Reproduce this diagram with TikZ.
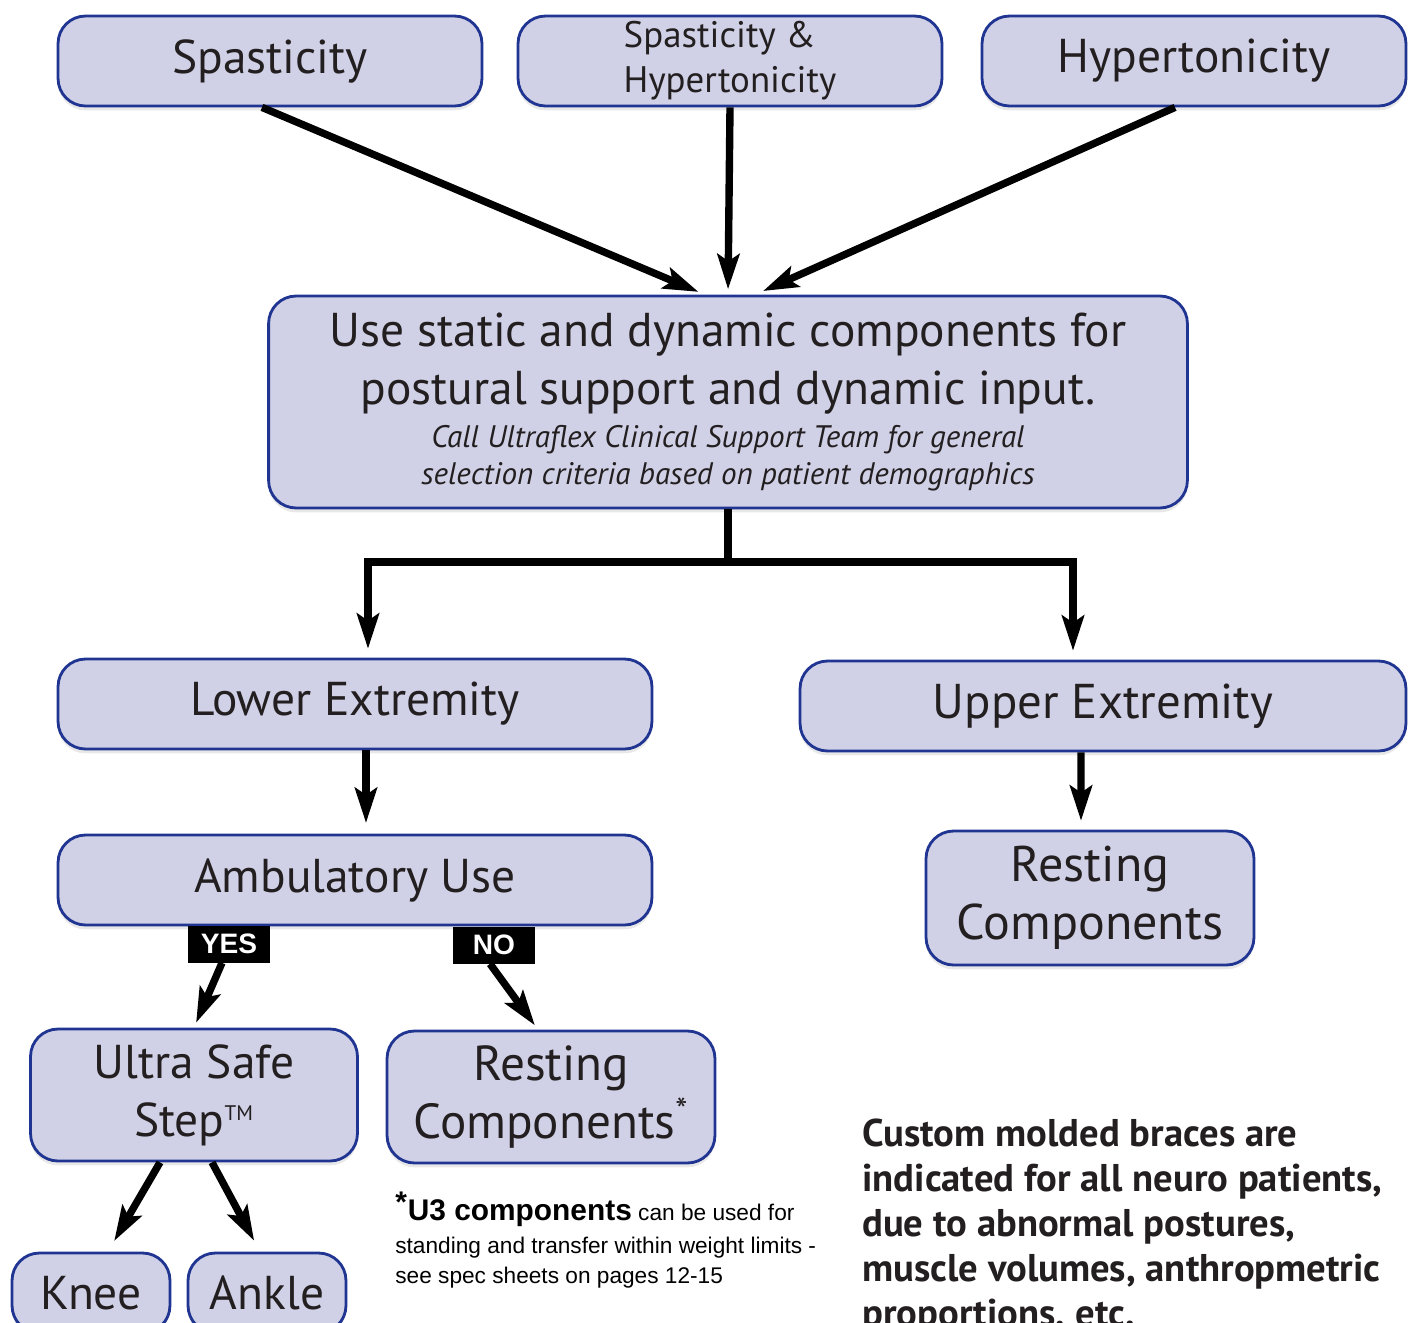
\documentclass[tikz,border=0pt]{standalone}
\usepackage{fontspec}
\setmainfont{PT Sans}
\newfontfamily\notefont{Liberation Sans}
\usepackage{xcolor}
\usetikzlibrary{positioning, arrows.meta, calc, shadows}
\definecolor{boxfill}{RGB}{208,209,230}
\definecolor{boxline}{RGB}{32,52,145}
\definecolor{inktext}{RGB}{35,31,32}

\begin{document}
\begin{tikzpicture}[x=0.02cm, y=-0.02cm,
    box/.style = {draw=boxline, fill=boxfill, line width=1.6pt, rounded corners=0.55cm,
                  align=center, inner sep=0pt, text=inktext,
                  drop shadow={shadow xshift=0pt, shadow yshift=-2.5pt, opacity=0.18},
                  font=\fontsize{27}{33}\selectfont},
    arr/.style = {line width=4.2pt, -{Stealth[length=20pt, width=12.5pt, inset=4pt]}},
    tag/.style = {fill=black, text=white, inner sep=0pt, minimum width=1.64cm,
                  minimum height=0.74cm, font=\notefont\bfseries\fontsize{16}{16}\selectfont}]
    \useasboundingbox (0,0) rectangle (1413,1322);
    \clip (0,0) rectangle (1413,1322);

    % top row
    \node[box, minimum width=8.48cm, minimum height=1.8cm] (spas) at (270,61) {Spasticity};
    \node[box, minimum width=8.48cm, minimum height=1.8cm, align=left, font=\fontsize{21}{25.5}\selectfont] (both) at (730,61) {Spasticity \&\\Hypertonicity};
    \node[box, minimum width=8.48cm, minimum height=1.8cm] (hyper) at (1194,61) {Hypertonicity};

    \node[box, minimum width=18.38cm, minimum height=4.24cm] (main) at (728,402)
        {Use static and dynamic components for\\postural support and dynamic input.\\[-8.5pt]
         {\itshape\fontsize{17.7}{22}\selectfont Call Ultraflex Clinical Support Team for general}\\[-12pt]
         {\itshape\fontsize{17.7}{22}\selectfont selection criteria based on patient demographics}};

    % lower / upper
    \node[box, minimum width=11.88cm, minimum height=1.8cm] (lower) at (355,704) {Lower Extremity};
    \node[box, minimum width=12.12cm, minimum height=1.8cm, font=\fontsize{27.8}{33}\selectfont] (upper) at (1103,706) {Upper Extremity};
    \node[box, minimum width=11.88cm, minimum height=1.8cm] (amb) at (355,880) {Ambulatory Use};
    \node[box, minimum width=6.56cm, minimum height=2.68cm, font=\fontsize{28.5}{33}\selectfont] (restR) at (1090,898) {Resting\\Components};

    \node[tag] (yes) at (229,944) {YES};
    \node[tag] (no) at (494,945) {NO};

    \node[box, minimum width=6.54cm, minimum height=2.64cm] (ultra) at (194,1095) {Ultra Safe\\Step\textsuperscript{\fontsize{12}{12}\selectfont TM}};
    \node[box, minimum width=6.56cm, minimum height=2.64cm, font=\fontsize{28}{33}\selectfont] (restM) at (551,1097) {Resting\\Components\textsuperscript{*}};

    \node[box, minimum width=3.16cm, minimum height=1.6cm] (knee) at (91,1293) {Knee};
    \node[box, minimum width=3.16cm, minimum height=1.6cm] (ankle) at (267,1293) {Ankle};

    % notes
    \node[anchor=north west, align=left, inner sep=0pt, text=black,
          font=\notefont\fontsize{12.9}{17.5}\selectfont] (note) at (395,1192)
        {\textsuperscript{\bfseries\fontsize{17}{17}\selectfont*}{\bfseries\fontsize{17}{17}\selectfont U3 components} can be used for\\[1pt]
         standing and transfer within weight limits -\\[0pt]
         see spec sheets on pages 12-15};
    \node[anchor=north west, align=left, inner sep=0pt, text=inktext,
          font=\bfseries\fontsize{22}{25.5}\selectfont] (custom) at (862,1119)
        {Custom molded braces are\\indicated for all neuro patients,\\due to abnormal postures,\\muscle volumes, anthropmetric\\proportions, etc.};

    % arrows
    \draw[arr, shorten >=4pt] ([xshift=-0.16cm]spas.south) -- ([xshift=-0.46cm]main.north);
    \draw[arr, shorten >=3pt] (both.south) -- (main.north);
    \draw[arr, shorten >=5pt] ([xshift=-0.38cm]hyper.south) -- ([xshift=0.54cm]main.north);

    \coordinate (split) at (728,562);
    \draw[line width=4.2pt] (main.south) -- (split);
    \draw[arr, shorten >=5pt] (split) -| ([xshift=0.26cm]lower.north);
    \draw[arr, shorten >=5pt] (split) -| ([xshift=-0.6cm]upper.north);

    \draw[arr, shorten >=6pt] ([xshift=0.22cm]lower.south) -- ([xshift=0.22cm]amb.north);
    \draw[arr, shorten >=5pt] ([xshift=-0.44cm]upper.south) -- ([xshift=-0.18cm]restR.north);

    \draw[arr, shorten >=3pt] ([xshift=-0.14cm]yes.south) -- (ultra.north);
    \draw[arr, shorten >=3pt] ([xshift=-0.08cm]no.south) -- ([xshift=-0.26cm]restM.north);

    \draw[arr, shorten >=7pt] ([xshift=-0.68cm]ultra.south) -- ([xshift=0.34cm]knee.north);
    \draw[arr, shorten >=7pt] ([xshift=0.36cm]ultra.south) -- ([xshift=-0.14cm]ankle.north);
\end{tikzpicture}
\end{document}
